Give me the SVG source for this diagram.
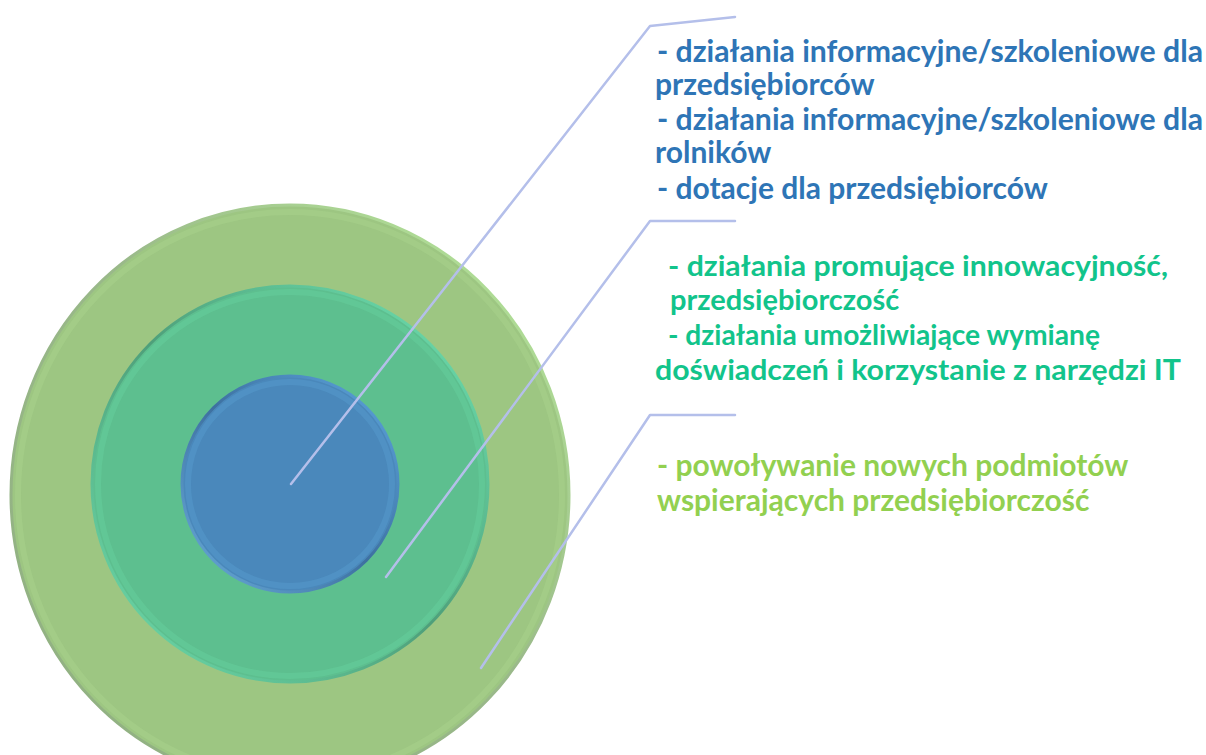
<svg xmlns="http://www.w3.org/2000/svg" width="1206" height="755" viewBox="0 0 1206 755">
<style>
.t{font-family:Lato,"Open Sans","DejaVu Sans",sans-serif;font-weight:700;font-size:30px}
.g{font-size:29px}
.blue{fill:#2E75B6}
.teal{fill:#12C48B}
.lime{fill:#92D050}
.conn{fill:none;stroke:#B4BFEA;stroke-width:2.5;stroke-linecap:round;stroke-linejoin:round}
</style>
<defs>
<linearGradient id="gOuterEdge" x1="0" y1="1" x2="1" y2="0">
<stop offset="0" stop-color="#8FAF80"/>
<stop offset="0.55" stop-color="#9AB98A"/>
<stop offset="1" stop-color="#B8EB9A"/>
</linearGradient>
<linearGradient id="gMidEdge" x1="0" y1="1" x2="1" y2="0">
<stop offset="0" stop-color="#6FE0AE"/>
<stop offset="0.5" stop-color="#4E9F7A"/>
<stop offset="1" stop-color="#70E6B4"/>
</linearGradient>
<linearGradient id="gBlueEdge" x1="0" y1="1" x2="1" y2="0">
<stop offset="0" stop-color="#6AAEDC"/>
<stop offset="0.5" stop-color="#3D70A0"/>
<stop offset="1" stop-color="#5DA8E0"/>
</linearGradient>
</defs>
<g id="ring-outer">
<ellipse cx="290" cy="495" rx="279" ry="290" fill="#9DC682" stroke="url(#gOuterEdge)" stroke-width="3"/>
<ellipse cx="290" cy="495" rx="272" ry="283" fill="none" stroke="#A6D08A" stroke-width="6" opacity="0.6"/>
</g>
<g id="ring-middle">
<circle cx="290" cy="484" r="198" fill="#5DBF8F" stroke="url(#gMidEdge)" stroke-width="3"/>
<circle cx="290" cy="484" r="192" fill="none" stroke="#64CB98" stroke-width="6" opacity="0.7"/>
</g>
<g id="ring-inner">
<circle cx="290" cy="484" r="108" fill="#4A88BB" stroke="url(#gBlueEdge)" stroke-width="3"/>
<circle cx="290" cy="484" r="102" fill="none" stroke="#5295C8" stroke-width="6" opacity="0.7"/>
</g>
<g id="connectors">
<polyline class="conn" points="291,484 650,26 735,17"/>
<polyline class="conn" points="386,577 650,221 735,221"/>
<polyline class="conn" points="481,668 650,415 735,415"/>
</g>
<g id="label-inner">
<text class="t blue" x="657" y="62" textLength="546" lengthAdjust="spacingAndGlyphs">- działania informacyjne/szkoleniowe dla</text>
<text class="t blue" x="655" y="95">przedsiębiorców</text>
<text class="t blue" x="657" y="130" textLength="546" lengthAdjust="spacingAndGlyphs">- działania informacyjne/szkoleniowe dla</text>
<text class="t blue" x="655" y="163">rolników</text>
<text class="t blue" x="657" y="199">- dotacje dla przedsiębiorców</text>
</g>
<g id="label-middle">
<text class="t g teal" x="668" y="276" textLength="500" lengthAdjust="spacingAndGlyphs">- działania promujące innowacyjność,</text>
<text class="t g teal" x="670" y="310">przedsiębiorczość</text>
<text class="t g teal" x="668" y="345" textLength="432" lengthAdjust="spacingAndGlyphs">- działania umożliwiające wymianę</text>
<text class="t g teal" x="655" y="380" textLength="526" lengthAdjust="spacingAndGlyphs">doświadczeń i korzystanie z narzędzi IT</text>
</g>
<g id="label-outer">
<text class="t lime" x="657" y="476">- powoływanie nowych podmiotów</text>
<text class="t lime" x="657" y="511">wspierających przedsiębiorczość</text>
</g>
</svg>
